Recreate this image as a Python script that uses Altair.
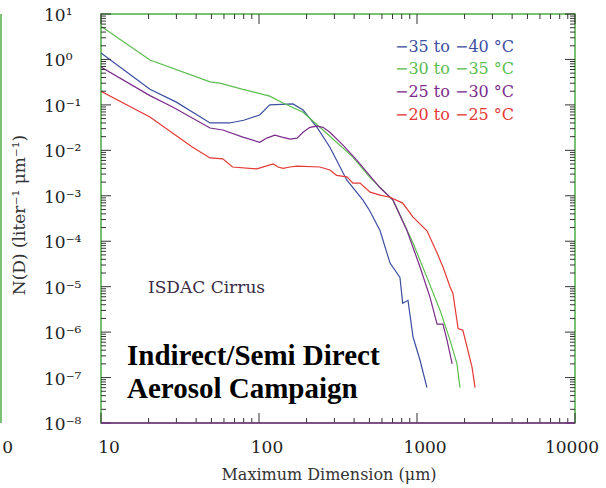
import altair as alt
import pandas as pd

# ---- data ----
series_names = ["−35 to −40 °C", "−30 to −35 °C", "−25 to −30 °C", "−20 to −25 °C"]
series_colors = ["#3b4ea0", "#5bbd4e", "#7c2b8c", "#e53935"]

blue_D = [10, 20.4, 30, 49, 65, 80, 101, 117, 164, 190, 233, 281, 360, 455, 500, 584, 675, 780, 812, 877, 944, 1045, 1156]
blue_N = [1.38, 0.22, 0.115, 0.040, 0.040, 0.046, 0.06, 0.10, 0.105, 0.077, 0.032, 0.0117, 0.0022, 8e-4, 4.8e-4, 1.7e-4, 3.3e-5, 1.6e-5, 4.3e-6, 5e-6, 7.8e-7, 2.4e-7, 6e-8]

green_D = [10, 20.4, 49, 56.6, 79, 117, 142, 190, 254, 393, 500, 705, 944, 1156, 1400, 1620, 1790, 1870]
green_N = [5.4, 0.97, 0.32, 0.30, 0.22, 0.156, 0.11, 0.069, 0.028, 0.0071, 0.0026, 8e-4, 9.1e-5, 1.6e-5, 3e-6, 6.6e-7, 2e-7, 6e-8]

purple_D = [10, 20.4, 28.6, 49, 59, 79, 101, 112, 126, 140, 157, 174, 190, 210, 233, 254, 281, 340, 417, 584, 705, 865, 1045, 1208, 1340, 1460, 1550, 1670]
purple_N = [0.68, 0.16, 0.089, 0.031, 0.028, 0.0195, 0.015, 0.0186, 0.0216, 0.0195, 0.0177, 0.0186, 0.025, 0.032, 0.034, 0.032, 0.025, 0.013, 0.006, 0.0015, 8e-4, 1.7e-4, 2.7e-5, 5.9e-6, 1.5e-6, 1.5e-6, 6.6e-7, 2e-7]

red_D = [10, 20.4, 38, 49, 59, 68, 97, 123, 132, 142, 157, 174, 243, 281, 310, 360, 393, 436, 505, 584, 675, 812, 944, 1156, 1340, 1460, 1620, 1690, 1820, 1950, 2000, 2230, 2330]
red_N = [0.2, 0.054, 0.0117, 0.0068, 0.0065, 0.0043, 0.0039, 0.005, 0.0043, 0.004, 0.0043, 0.0045, 0.0043, 0.0037, 0.0028, 0.0026, 0.0019, 0.0019, 0.0012, 1.03e-3, 9.3e-4, 6.9e-4, 3.4e-4, 1.7e-4, 5.5e-5, 2.7e-5, 9.8e-6, 7e-6, 1.2e-6, 1.1e-6, 7.8e-7, 1.7e-7, 6e-8]

x_major = [10, 100, 1000, 10000]
x_labels = ["10", "100", "1000", "10000"]
x_minor = [20, 30, 40, 50, 60, 70, 80, 90, 200, 300, 400, 500, 600, 700, 800, 900,
           2000, 3000, 4000, 5000, 6000, 7000, 8000, 9000]
y_major = [1e-8, 1e-7, 1e-6, 1e-5, 1e-4, 1e-3, 1e-2, 1e-1, 1, 10]
y_labels = ["10⁻⁸", "10⁻⁷", "10⁻⁶", "10⁻⁵", "10⁻⁴", "10⁻³", "10⁻²", "10⁻¹", "10⁰", "10¹"]
y_minor = [float(f"{m}e{e}") for e in range(-8, 1) for m in range(2, 10)]

# ---- build table ----
rows = []
for name, D, N in zip(series_names, [blue_D, green_D, purple_D, red_D], [blue_N, green_N, purple_N, red_N]):
    for d, n in zip(D, N):
        rows.append({"D": d, "N": n, "series": name})
df = pd.DataFrame(rows)

W, H = 474, 409
x_scale = alt.Scale(type="log", domain=[10, 10000], nice=False)
y_scale = alt.Scale(type="log", domain=[1e-8, 10], nice=False)

TICK = "#333333"
FRAME_G = "#4fae45"
FRAME_P = "#7c2b8c"
SERIF = "DejaVu Serif"
LABEL = "#222222"

lines = alt.Chart(df).mark_line(strokeWidth=1.2, clip=True).encode(
    x=alt.X("D:Q", scale=x_scale, axis=None),
    y=alt.Y("N:Q", scale=y_scale, axis=None),
    color=alt.Color("series:N", scale=alt.Scale(domain=series_names, range=series_colors), legend=None),
)

# ---- inward ticks on all four sides (tick marks placed through the shared scales) ----
tick_layers = []
for vals, size in [(x_major, 10), (x_minor, 5)]:
    tdf = pd.DataFrame({"D": vals})
    base = alt.Chart(tdf).mark_tick(orient="vertical", size=size, thickness=1, color=TICK, opacity=1)
    xenc = alt.X("D:Q", scale=x_scale, axis=None)
    tick_layers.append(base.encode(x=xenc, y=alt.value(H - size / 2)))
    tick_layers.append(base.encode(x=xenc, y=alt.value(size / 2)))
for vals, size in [(y_major, 10), (y_minor, 5)]:
    tdf = pd.DataFrame({"N": vals})
    base = alt.Chart(tdf).mark_tick(orient="horizontal", size=size, thickness=1, color=TICK, opacity=1)
    yenc = alt.Y("N:Q", scale=y_scale, axis=None)
    tick_layers.append(base.encode(y=yenc, x=alt.value(size / 2)))
    tick_layers.append(base.encode(y=yenc, x=alt.value(W - size / 2)))

# ---- tick labels, placed through the scales ----
xlab_df = pd.DataFrame({"D": x_major, "lab": x_labels})
xlab_a = alt.Chart(xlab_df).transform_filter("datum.D < 5000").mark_text(
    align="center", baseline="top", font=SERIF, fontSize=17, color=LABEL, dx=8).encode(
    x=alt.X("D:Q", scale=x_scale, axis=None), y=alt.value(H + 17), text="lab:N")
xlab_b = alt.Chart(xlab_df).transform_filter("datum.D > 5000").mark_text(
    align="center", baseline="top", font=SERIF, fontSize=17, color=LABEL, dx=-3).encode(
    x=alt.X("D:Q", scale=x_scale, axis=None), y=alt.value(H + 17), text="lab:N")

ylab_df = pd.DataFrame({"N": y_major, "lab": y_labels})
ylab = alt.Chart(ylab_df).mark_text(
    align="left", baseline="middle", font=SERIF, fontSize=17, color=LABEL, dy=2).encode(
    y=alt.Y("N:Q", scale=y_scale, axis=None), x=alt.value(-57), text="lab:N")

one = pd.DataFrame({"k": [0]})

# axis titles
x_title = alt.Chart(one).mark_text(align="center", baseline="middle", font=SERIF, fontSize=16,
                                   color="#333333").encode(
    x=alt.value(228), y=alt.value(H + 52), text=alt.value("Maximum Dimension (μm)"))
y_title = alt.Chart(one).mark_text(align="center", baseline="middle", font=SERIF, fontSize=17,
                                   color="#333333", angle=270).encode(
    x=alt.value(-81), y=alt.value(201), text=alt.value("N(D) (liter⁻¹ μm⁻¹)"))

# purple bottom edge of the frame (the rest of the frame is the view stroke)
frame_bottom = alt.Chart(one).mark_rule(color=FRAME_P, strokeWidth=1.5).encode(
    x=alt.value(0), x2=alt.value(W), y=alt.value(H))

legend_layers = []
for i, (name, col) in enumerate(zip(series_names, series_colors)):
    legend_layers.append(
        alt.Chart(one).mark_text(align="left", baseline="middle", font=SERIF, fontSize=16, color=col).encode(
            x=alt.value(294), y=alt.value(32.5 + i * 22.8), text=alt.value(name))
    )

isdac = alt.Chart(one).mark_text(align="left", baseline="middle", font=SERIF, fontSize=17, color="#3b2b45").encode(
    x=alt.value(47), y=alt.value(274), text=alt.value("ISDAC Cirrus"))

bold1 = alt.Chart(one).mark_text(align="left", baseline="alphabetic", font="Liberation Serif",
                                 fontSize=29, fontWeight="bold", color="#000000").encode(
    x=alt.value(26), y=alt.value(351), text=alt.value("Indirect/Semi Direct"))
bold2 = alt.Chart(one).mark_text(align="left", baseline="alphabetic", font="Liberation Serif",
                                 fontSize=29, fontWeight="bold", color="#000000").encode(
    x=alt.value(26), y=alt.value(384), text=alt.value("Aerosol Campaign"))

# edge of the neighbouring panel
edge_rule = alt.Chart(one).mark_rule(color=FRAME_G, strokeWidth=1.5).encode(
    x=alt.value(-100), y=alt.value(0), y2=alt.value(H))
edge_text = alt.Chart(one).mark_text(align="right", baseline="top", font=SERIF, fontSize=17, color=LABEL).encode(
    x=alt.value(-88), y=alt.value(H + 17), text=alt.value("0"))

chart = alt.layer(
    lines, *tick_layers, xlab_a, xlab_b, ylab, x_title, y_title, frame_bottom,
    *legend_layers, isdac, bold1, bold2, edge_rule, edge_text
).properties(
    width=W, height=H,
    autosize=alt.AutoSizeParams(type="none"),
    padding={"left": 101, "top": 14, "right": 31, "bottom": 65},
    background="white",
).configure_view(stroke=FRAME_G, strokeWidth=1.5)

chart.save("out.html", embed_options={"renderer": "svg", "actions": False})
